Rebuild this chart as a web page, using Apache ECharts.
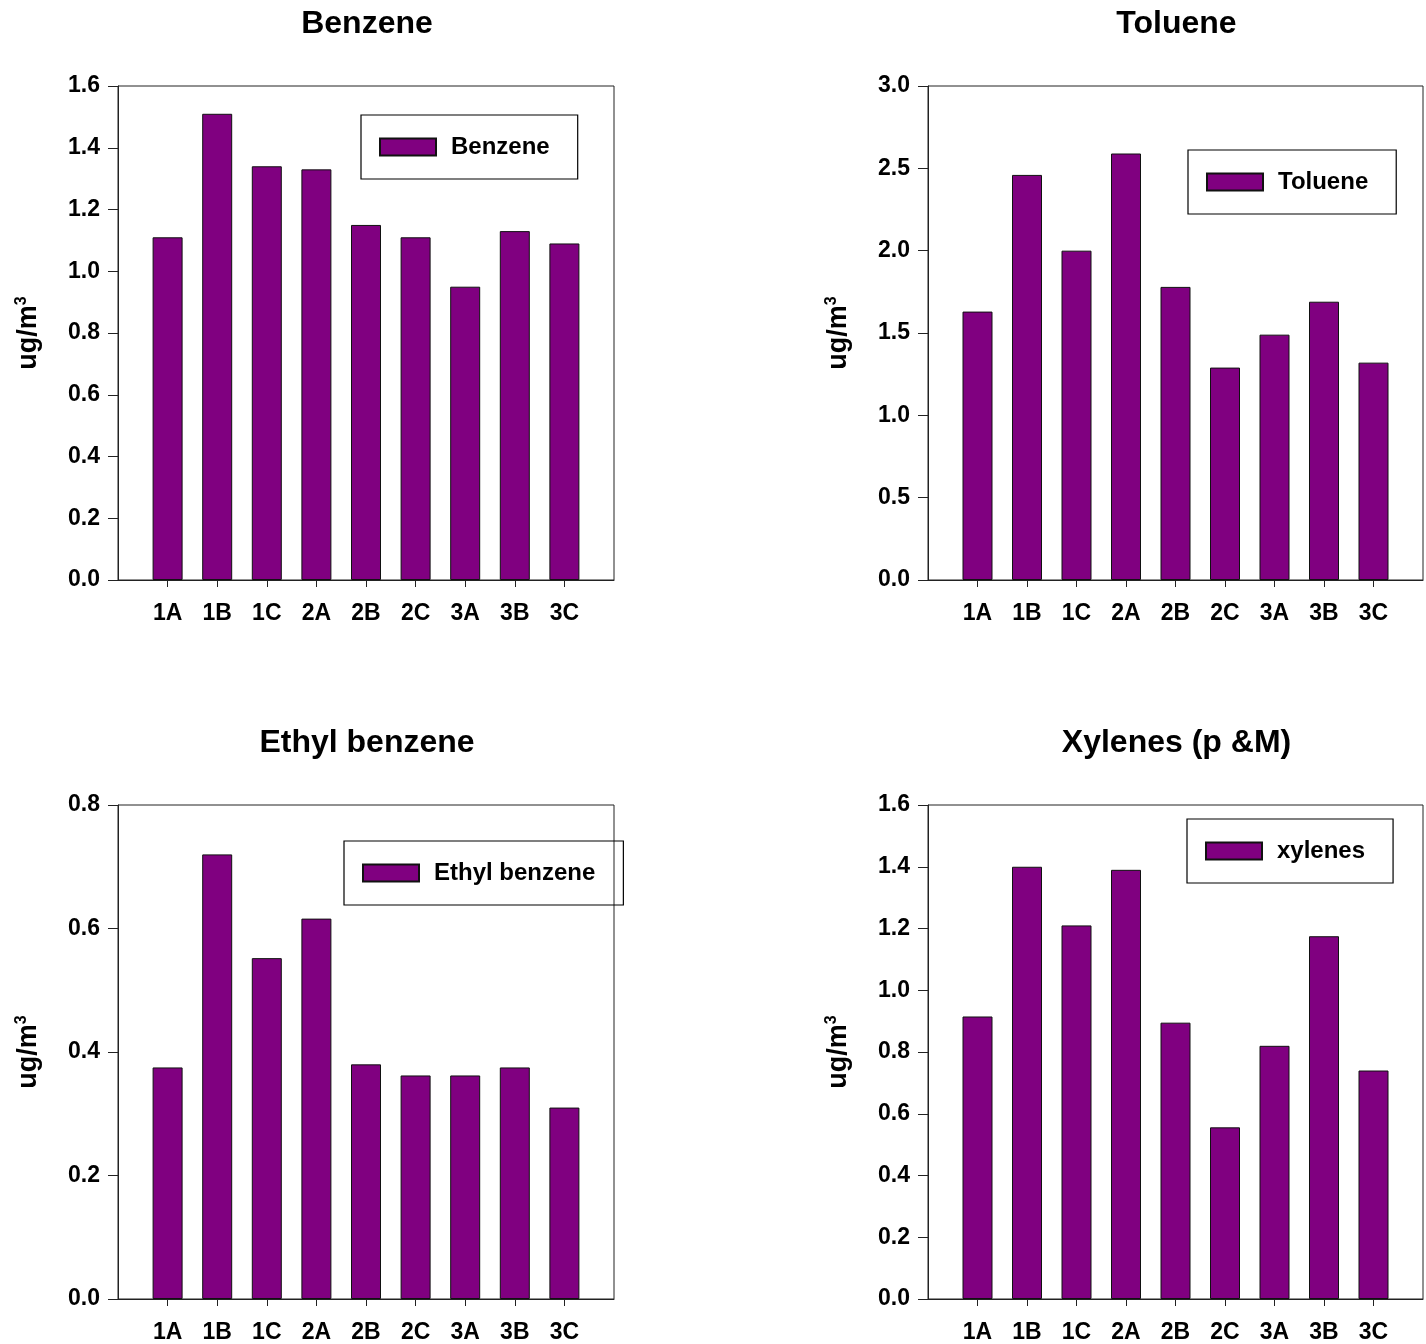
<!DOCTYPE html>
<html>
<head>
<meta charset="utf-8">
<title>BTEX concentrations by site</title>
<script src="https://cdn.jsdelivr.net/npm/echarts@6/dist/echarts.min.js"></script>
<style>
  html, body { margin: 0; padding: 0; background: #fff; }
  #chart { width: 1426px; height: 1344px; }
</style>
</head>
<body>
<div id="chart"></div>
<script>
// Sampling sites
const categories = ['1A', '1B', '1C', '2A', '2B', '2C', '3A', '3B', '3C'];

// Mean concentrations (ug/m3) per site
const benzene = [1.11, 1.51, 1.34, 1.33, 1.15, 1.11, 0.95, 1.13, 1.09];
const toluene = [1.63, 2.46, 2.00, 2.59, 1.78, 1.29, 1.49, 1.69, 1.32];
const ethylBenzene = [0.375, 0.72, 0.552, 0.616, 0.38, 0.362, 0.362, 0.375, 0.31];
const xylenes = [0.915, 1.40, 1.21, 1.39, 0.895, 0.556, 0.82, 1.175, 0.74];

// Panel titles, legend names and y-axis ranges
const panelTitles = ['Benzene', 'Toluene', 'Ethyl benzene', 'Xylenes (p &M)'];
const legendNames = ['Benzene', 'Toluene', 'Ethyl benzene', 'xylenes'];
const yMax = [1.6, 3.0, 0.8, 1.6];
const yStep = [0.2, 0.5, 0.2, 0.2];
const seriesValues = [benzene, toluene, ethylBenzene, xylenes];

const FONT = '"Liberation Sans", Arial, Helvetica, sans-serif';
const BAR = '#800080';
const LINE = '#222';

// Layout of the 2x2 panels
const grids = [
  { left: 118, top: 86, width: 496, height: 494 },
  { left: 928, top: 86, width: 495, height: 494 },
  { left: 118, top: 805, width: 496, height: 494 },
  { left: 928, top: 805, width: 495, height: 494 }
];
const legendPos = [
  { left: 361, top: 115 },
  { left: 1188, top: 150 },
  { left: 344, top: 841 },
  { left: 1187, top: 819 }
];
const titleTop = [3, 3, 722, 722];

// Empty slots pad each end so the bars sit one step in from the frame
const xData = [''].concat(categories, ['']);

const option = {
  backgroundColor: '#fff',
  animation: false,
  title: panelTitles.map((t, i) => ({
    text: t,
    left: grids[i].left + grids[i].width / 2 - 4,
    top: titleTop[i],
    textAlign: 'center',
    textStyle: { fontFamily: FONT, fontWeight: 'bold', fontSize: 32, color: '#000' }
  })),
  legend: legendNames.map((n, i) => ({
    data: [n],
    left: legendPos[i].left,
    top: legendPos[i].top,
    orient: 'horizontal',
    icon: 'rect',
    padding: [20, 28, 20, 18],
    borderColor: '#000',
    borderWidth: 1.2,
    itemWidth: 56,
    itemHeight: 17,
    selectedMode: false,
    textStyle: {
      fontFamily: FONT, fontWeight: 'bold', fontSize: 24, color: '#000',
      padding: [0, 0, 0, 10]
    }
  })),
  grid: grids.map(g => Object.assign({
    show: true,
    borderColor: LINE,
    borderWidth: 1,
    backgroundColor: 'transparent',
    containLabel: false
  }, g)),
  xAxis: grids.map((g, i) => ({
    type: 'category',
    gridIndex: i,
    data: xData,
    boundaryGap: false,
    axisLine: { lineStyle: { color: LINE, width: 1 } },
    axisTick: {
      show: true,
      length: 7,
      inside: false,
      interval: (idx) => idx > 0 && idx < xData.length - 1,
      lineStyle: { color: LINE }
    },
    axisLabel: {
      interval: 0,
      margin: 22,
      fontFamily: FONT, fontWeight: 'bold', fontSize: 23, color: '#000'
    },
    splitLine: { show: false }
  })),
  yAxis: grids.map((g, i) => ({
    type: 'value',
    gridIndex: i,
    min: 0,
    max: yMax[i],
    interval: yStep[i],
    name: '{u|ug/m}{s|3}',
    nameLocation: 'middle',
    nameGap: 74,
    nameRotate: 90,
    nameTextStyle: {
      rich: {
        u: { fontFamily: FONT, fontWeight: 'bold', fontSize: 27, color: '#000', lineHeight: 30 },
        s: { fontFamily: FONT, fontWeight: 'bold', fontSize: 16, color: '#000', verticalAlign: 'top', lineHeight: 30 }
      }
    },
    axisLine: { show: true, lineStyle: { color: LINE, width: 1 } },
    axisTick: { show: true, length: 10, inside: false, lineStyle: { color: LINE } },
    axisLabel: {
      margin: 18,
      formatter: v => v.toFixed(1),
      fontFamily: FONT, fontWeight: 'bold', fontSize: 23, color: '#000'
    },
    splitLine: { show: false }
  })),
  series: seriesValues.map((vals, i) => ({
    type: 'bar',
    name: legendNames[i],
    xAxisIndex: i,
    yAxisIndex: i,
    barWidth: 30,
    data: ['-'].concat(vals, ['-']),
    itemStyle: { color: BAR, borderColor: '#111', borderWidth: 1 }
  }))
};

const chart = echarts.init(document.getElementById('chart'), null, { renderer: 'canvas' });
chart.setOption(option);
</script>
</body>
</html>
